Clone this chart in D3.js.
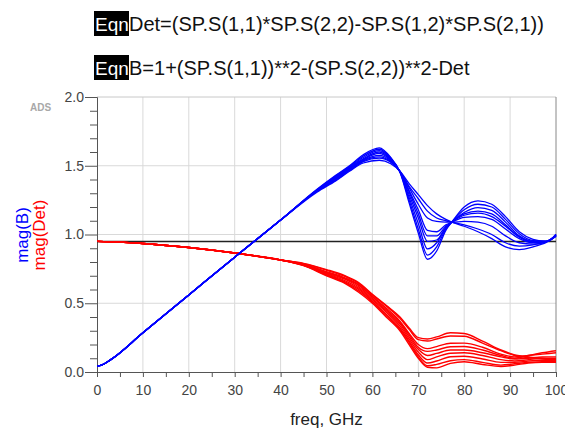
<!DOCTYPE html>
<html><head><meta charset="utf-8">
<script src="https://cdn.jsdelivr.net/npm/d3@7/dist/d3.min.js"></script>
<style>
html,body{margin:0;padding:0;background:#fff;}
svg{display:block;font-family:"Liberation Sans",Arial,sans-serif;}
</style></head>
<body><svg id="chart" width="565" height="429"></svg>
<script>
// ---- data ----
const xTicks = [0,10,20,30,40,50,60,70,80,90,100];
const yTicks = [0.0,0.5,1.0,1.5,2.0];
const yTickLabels = ["0.0","0.5","1.0","1.5","2.0"];
const refLevel = 0.95;

const freqB = [0,1,3,10,20,30,40,48,52,55,58,61.5,64,66,68,70,72,74,76,77.3,80,83,86,89,92,95,98,100];
const magB1 = [0.045,0.05,0.09,0.285,0.56,0.835,1.105,1.33,1.43,1.50,1.58,1.63,1.56,1.455,1.23,1.01,0.82,0.88,1.03,1.09,1.20,1.245,1.22,1.13,1.02,0.965,0.95,1.0];
const magB2 = [0.045,0.05,0.09,0.285,0.56,0.835,1.105,1.328,1.425,1.495,1.57,1.62,1.555,1.455,1.25,1.04,0.85,0.91,1.04,1.09,1.18,1.22,1.20,1.11,1.005,0.955,0.95,1.0];
const magB3 = [0.045,0.05,0.09,0.285,0.56,0.835,1.105,1.326,1.42,1.49,1.56,1.61,1.55,1.457,1.27,1.08,0.895,0.94,1.05,1.09,1.16,1.195,1.175,1.09,0.99,0.95,0.95,1.0];
const magB4 = [0.045,0.05,0.09,0.285,0.56,0.835,1.105,1.324,1.415,1.485,1.55,1.60,1.545,1.457,1.29,1.12,0.95,0.96,1.05,1.09,1.15,1.17,1.15,1.07,0.985,0.95,0.95,0.995];
const magB5 = [0.045,0.05,0.09,0.285,0.56,0.835,1.105,1.322,1.41,1.48,1.545,1.59,1.54,1.458,1.31,1.15,0.99,0.99,1.06,1.09,1.14,1.155,1.13,1.06,0.98,0.945,0.95,0.995];
const magB6 = [0.045,0.05,0.09,0.285,0.56,0.835,1.105,1.32,1.405,1.475,1.54,1.575,1.535,1.458,1.32,1.18,1.03,1.02,1.07,1.09,1.125,1.13,1.11,1.04,0.97,0.94,0.95,0.99];
const magB7 = [0.045,0.05,0.09,0.285,0.56,0.835,1.105,1.318,1.40,1.47,1.535,1.565,1.53,1.459,1.34,1.22,1.12,1.095,1.09,1.09,1.095,1.09,1.06,0.99,0.94,0.93,0.95,0.99];
const magB8 = [0.045,0.05,0.09,0.285,0.56,0.835,1.105,1.316,1.395,1.465,1.53,1.555,1.525,1.46,1.35,1.26,1.17,1.12,1.10,1.09,1.07,1.04,1.00,0.94,0.915,0.925,0.95,0.99];
const magB9 = [0.045,0.05,0.09,0.285,0.56,0.835,1.105,1.31,1.39,1.46,1.52,1.54,1.515,1.46,1.37,1.29,1.21,1.15,1.11,1.09,1.06,1.02,0.97,0.91,0.89,0.91,0.945,0.985];

const freqDet = [0,10,20,30,40,45,50,54,57,60,63,66,68,70,72,74,77,80,84,88,91,94,97,100];
const magDet1 = [0.95,0.935,0.905,0.865,0.815,0.79,0.745,0.70,0.65,0.565,0.485,0.40,0.32,0.25,0.24,0.255,0.286,0.28,0.225,0.16,0.125,0.11,0.10,0.09];
const magDet2 = [0.95,0.935,0.905,0.865,0.815,0.788,0.74,0.695,0.645,0.56,0.48,0.39,0.31,0.235,0.225,0.24,0.262,0.26,0.21,0.155,0.12,0.105,0.095,0.085];
const magDet3 = [0.95,0.935,0.905,0.865,0.815,0.785,0.73,0.685,0.635,0.55,0.465,0.37,0.28,0.20,0.17,0.185,0.209,0.21,0.18,0.13,0.11,0.12,0.14,0.155];
const magDet4 = [0.95,0.935,0.905,0.865,0.815,0.783,0.725,0.68,0.63,0.545,0.455,0.36,0.27,0.18,0.15,0.16,0.184,0.185,0.16,0.12,0.10,0.12,0.13,0.14];
const magDet5 = [0.95,0.935,0.905,0.865,0.815,0.78,0.72,0.675,0.62,0.535,0.445,0.35,0.255,0.165,0.12,0.135,0.16,0.16,0.14,0.11,0.095,0.10,0.11,0.11];
const magDet6 = [0.95,0.935,0.905,0.865,0.815,0.778,0.715,0.665,0.61,0.525,0.435,0.335,0.24,0.145,0.09,0.11,0.136,0.14,0.12,0.09,0.08,0.09,0.10,0.10];
const magDet7 = [0.95,0.935,0.905,0.865,0.815,0.776,0.71,0.655,0.60,0.515,0.42,0.32,0.225,0.125,0.065,0.08,0.111,0.115,0.095,0.07,0.07,0.08,0.085,0.08];
const magDet8 = [0.95,0.935,0.905,0.865,0.815,0.775,0.705,0.65,0.59,0.51,0.41,0.31,0.215,0.11,0.045,0.055,0.082,0.09,0.07,0.05,0.06,0.07,0.075,0.075];
const magDet9 = [0.95,0.935,0.905,0.865,0.815,0.773,0.70,0.645,0.58,0.50,0.40,0.30,0.20,0.10,0.035,0.03,0.063,0.075,0.055,0.04,0.05,0.065,0.07,0.07];

const seriesB = [magB1,magB2,magB3,magB4,magB5,magB6,magB7,magB8,magB9];
const seriesDet = [magDet1,magDet2,magDet3,magDet4,magDet5,magDet6,magDet7,magDet8,magDet9];

const eqn1 = "Det=(SP.S(1,1)*SP.S(2,2)-SP.S(1,2)*SP.S(2,1))";
const eqn2 = "B=1+(SP.S(1,1))**2-(SP.S(2,2))**2-Det";

// ---- drawing ----
const svg = d3.select("#chart");
const L = 97, R = 556, T = 97, B = 372;
const x = d3.scaleLinear().domain([0,100]).range([L,R]);
const y = d3.scaleLinear().domain([0,2]).range([B,T]);

// equations
[[eqn1,31],[eqn2,75]].forEach(([txt,by])=>{
  svg.append("rect").attr("x",94).attr("y",by-20).attr("width",35).attr("height",25).attr("fill","#000");
  svg.append("text").attr("x",95).attr("y",by).attr("font-size",19).attr("fill","#fff").text("Eqn");
  svg.append("text").attr("x",129).attr("y",by).attr("font-size",20).attr("fill","#111").text(txt);
});

// grid
const g = svg.append("g");
g.selectAll("line.vg").data(xTicks.slice(1,-1)).join("line")
  .attr("x1",d=>x(d)).attr("x2",d=>x(d)).attr("y1",T).attr("y2",B)
  .attr("stroke","#d9d9d9").attr("stroke-width",1);
g.selectAll("line.hg").data(yTicks.slice(1,-1)).join("line")
  .attr("x1",L).attr("x2",R).attr("y1",d=>y(d)).attr("y2",d=>y(d))
  .attr("stroke","#d9d9d9").attr("stroke-width",1);
// frame top / right
g.append("line").attr("x1",L).attr("x2",R).attr("y1",T).attr("y2",T).attr("stroke","#c8c8c8");
g.append("line").attr("x1",R).attr("x2",R).attr("y1",T).attr("y2",B).attr("stroke","#888");

// axes
const xAxis = d3.axisBottom(x).tickValues(d3.range(0,101,5)).tickSize(5)
  .tickFormat(d=> d%10===0 ? d : "");
const gx = svg.append("g").attr("transform",`translate(0,${B})`).call(xAxis);
gx.select(".domain").attr("stroke","#555");
gx.selectAll(".tick line").attr("stroke","#555");
gx.selectAll(".tick text").attr("font-size",14).attr("fill","#444").attr("dy","1.05em")
  .attr("font-family","Liberation Sans, Arial, sans-serif");

const yAxis = d3.axisLeft(y).tickValues(d3.range(0,2.0001,0.1)).tickSize(7)
  .tickFormat(d=>{const i=yTicks.findIndex(v=>Math.abs(v-d)<1e-6); return i>=0?yTickLabels[i]:"";});
const gy = svg.append("g").attr("transform",`translate(${L},0)`).call(yAxis);
gy.select(".domain").attr("stroke","#555");
gy.selectAll(".tick line").attr("stroke","#555")
  .attr("x2",d=> yTicks.some(v=>Math.abs(v-d)<1e-6) ? -12 : -7);
gy.selectAll(".tick text").attr("font-size",14).attr("fill","#444").attr("x",-13)
  .attr("font-family","Liberation Sans, Arial, sans-serif");

// reference line
svg.append("line").attr("x1",x(0)).attr("x2",x(100)).attr("y1",y(refLevel)).attr("y2",y(refLevel))
  .attr("stroke","#222").attr("stroke-width",1.5);

// curves
const lineB = d3.line().x((d,i)=>x(freqB[i])).y(d=>y(d)).curve(d3.curveMonotoneX);
const lineD = d3.line().x((d,i)=>x(freqDet[i])).y(d=>y(d)).curve(d3.curveMonotoneX);
svg.append("g").selectAll("path").data(seriesDet).join("path")
  .attr("d",lineD).attr("fill","none").attr("stroke","#ff0000").attr("stroke-width",1.4);
svg.append("g").selectAll("path").data(seriesB).join("path")
  .attr("d",lineB).attr("fill","none").attr("stroke","#0000ff").attr("stroke-width",1.3);

// labels
svg.append("text").attr("x",30).attr("y",111).attr("font-size",10).attr("font-weight","bold")
  .attr("fill","#a8a8a8").text("ADS");
svg.append("text").attr("transform","translate(28,235) rotate(-90)").attr("text-anchor","middle")
  .attr("font-size",17).attr("fill","#0000ff").text("mag(B)");
svg.append("text").attr("transform","translate(45,235) rotate(-90)").attr("text-anchor","middle")
  .attr("font-size",17).attr("fill","#ff0000").text("mag(Det)");
svg.append("text").attr("x",(L+R)/2).attr("y",425).attr("text-anchor","middle")
  .attr("font-size",17).attr("fill","#222").text("freq, GHz");
</script></body></html>
